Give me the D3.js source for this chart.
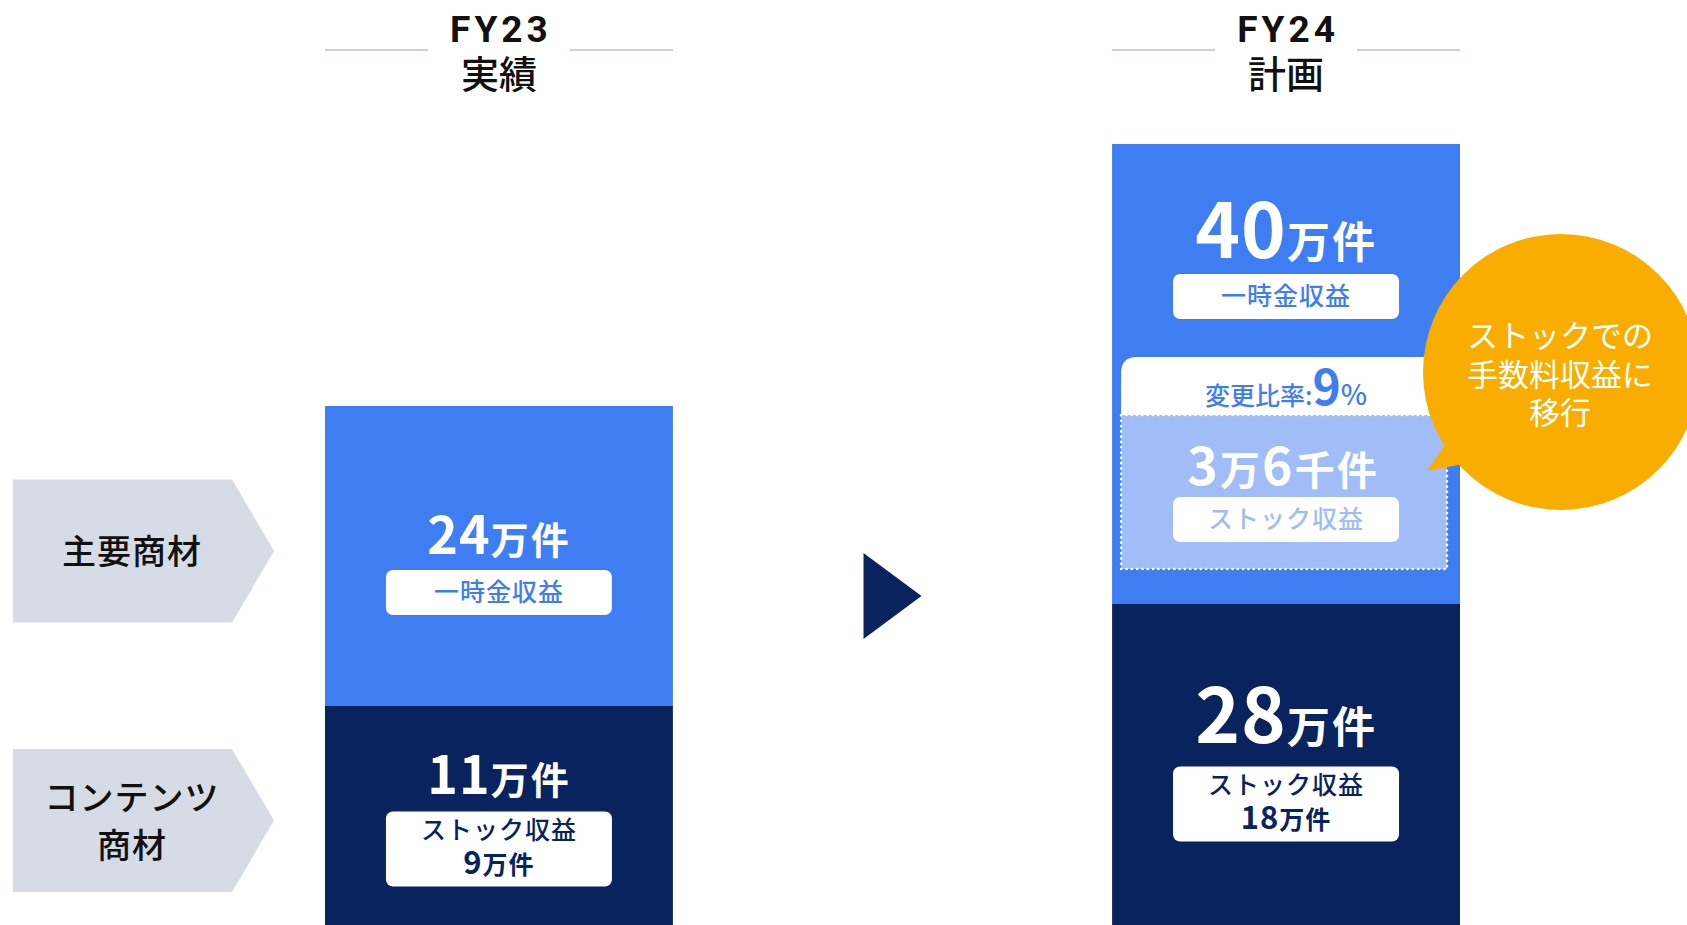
<!DOCTYPE html>
<html>
<head>
<meta charset="utf-8">
<title>FY23 / FY24 件数</title>
<script src="https://cdn.jsdelivr.net/npm/d3@7"></script>
<style>
  body { margin: 0; background: #fff; font-family: "Noto Sans CJK JP", "Noto Sans", sans-serif; }
  svg { display: block; }
</style>
</head>
<body>
<div id="chart"></div>
<script>
  // values (万件)
  const years = ["FY23", "FY24"];
  const yearNotes = ["実績", "計画"];
  const oneTime = [24, 40];          // 一時金収益
  const stock = [11, 28];            // コンテンツ商材
  const stockRevenue = [9, 18];      // うちストック収益
  const rowLabels = [["主要商材"], ["コンテンツ", "商材"]];
  const shiftRate = 9;               // 変更比率 %
  const shiftParts = [["3", "万"], ["6", "千件"]];
  const bubbleLines = ["ストックでの", "手数料収益に", "移行"];

  const width = 1687, height = 925;
  const BLUE = "#3f7df3", NAVY = "#08235e", LIGHT = "#a0bdf8", ORANGE = "#f9ad00", GREY = "#d5dce6";
  const FONT = "'Noto Sans CJK JP', sans-serif";

  const svg = d3.select("#chart").append("svg")
    .attr("width", width)
    .attr("height", height)
    .style("font-family", FONT);

  const x = d3.scaleBand().domain(years).range([325, 1460]).paddingInner(0.558);
  // infographic bars: dark part runs off the bottom, blue part sits on top of it
  const yBase = d3.scaleLinear().domain([0, 28]).range([772, 604]);
  const hTop = d3.scaleLinear().domain([0, 40]).range([60, 460]);

  const bars = years.map((yr, i) => {
    const x0 = x(yr), x1 = x0 + x.bandwidth();
    const mid = yBase(stock[i]);
    return { yr, i, x0, x1, cx: (x0 + x1) / 2, mid, top: mid - hTop(oneTime[i]) };
  });

  // headers
  const head = svg.append("g");
  bars.forEach(b => {
    head.append("text").attr("x", b.cx + 2).attr("y", 42).attr("text-anchor", "middle")
      .attr("font-family", "Roboto, sans-serif")
      .attr("font-size", 37).attr("font-weight", 700).attr("letter-spacing", 4)
      .attr("fill", "#111").text(b.yr);
    head.append("text").attr("x", b.cx).attr("y", 88).attr("text-anchor", "middle")
      .attr("font-size", 38).attr("font-weight", 500).attr("fill", "#111").text(yearNotes[b.i]);
    [[b.x0, b.x0 + 103], [b.x1 - 103, b.x1]].forEach(([a, c]) => {
      head.append("line").attr("x1", a).attr("x2", c).attr("y1", 50).attr("y2", 50)
        .attr("stroke", "#b4c3de").attr("stroke-width", 1.5);
    });
  });

  // bars
  svg.append("g").selectAll("rect").data(bars).enter().append("rect")
    .attr("x", d => d.x0).attr("width", x.bandwidth())
    .attr("y", d => d.top).attr("height", d => d.mid - d.top)
    .attr("fill", BLUE);
  svg.append("g").selectAll("rect").data(bars).enter().append("rect")
    .attr("x", d => d.x0).attr("width", x.bandwidth())
    .attr("y", d => d.mid).attr("height", d => height - d.mid)
    .attr("fill", NAVY);

  function numText(g, cx, y, parts, color) {
    const t = g.append("text").attr("x", cx).attr("y", y).attr("text-anchor", "middle")
      .attr("fill", color).attr("font-weight", 700);
    parts.forEach(([s, size, ls]) => {
      t.append("tspan").attr("font-size", size).attr("letter-spacing", ls || 0).text(s);
    });
    return t;
  }

  function labelBox(g, cx, y, h, fill) {
    g.append("rect").attr("x", cx - 113).attr("y", y).attr("width", 226).attr("height", h)
      .attr("rx", 7).attr("fill", fill);
  }

  const lab = svg.append("g");
  bars.forEach(b => {
    const big = b.i === 0 ? 52 : 76, unit = b.i === 0 ? 38 : 43;
    // 一時金収益
    const yTop = b.i === 0 ? (b.top + b.mid) / 2 - 2 : b.top + 114;
    numText(lab, b.cx, yTop, [[oneTime[b.i], big, 1], ["万件", unit, 2]], "#fff");
    labelBox(lab, b.cx, yTop + 16, 45, "#fff");
    lab.append("text").attr("x", b.cx).attr("y", yTop + 47).attr("text-anchor", "middle")
      .attr("font-size", 25).attr("font-weight", 500).attr("letter-spacing", 1)
      .attr("fill", BLUE).text("一時金収益");

    // コンテンツ / ストック
    const yBot = (b.mid + height) / 2 - 22;
    const boxTop = yBot + (b.i === 0 ? 18 : 24);
    numText(lab, b.cx, yBot, [[stock[b.i], big, 1], ["万件", unit, 2]], "#fff");
    labelBox(lab, b.cx, boxTop, 75, "#fff");
    lab.append("text").attr("x", b.cx).attr("y", boxTop + 27).attr("text-anchor", "middle")
      .attr("font-size", 25).attr("font-weight", 500).attr("letter-spacing", 1)
      .attr("fill", NAVY).text("ストック収益");
    numText(lab, b.cx, boxTop + 62, [[stockRevenue[b.i], 31, 1], ["万件", 25, 1]], NAVY);
  });

  // shift annotation inside FY24 blue part
  const b2 = bars[1];
  const ann = svg.append("g");
  const ax0 = b2.x0 + 9, ax1 = b2.x1 - 13;
  const lightTop = b2.mid - 189, lightBot = b2.mid - 35, headTop = lightTop - 58, r = 16;
  ann.append("path")
    .attr("d", `M${ax0},${lightTop} V${headTop + r} Q${ax0},${headTop} ${ax0 + r},${headTop}
      H${ax1 - r} Q${ax1},${headTop} ${ax1},${headTop + r} V${lightTop} Z`)
    .attr("fill", "#fff");
  ann.append("rect").attr("x", ax0).attr("y", lightTop)
    .attr("width", ax1 - ax0).attr("height", lightBot - lightTop)
    .attr("fill", LIGHT).attr("stroke", "#fff").attr("stroke-width", 2.6)
    .attr("stroke-dasharray", "0.1 5.2").attr("stroke-linecap", "round");

  const rateT = ann.append("text").attr("x", b2.cx).attr("y", headTop + 48)
    .attr("text-anchor", "middle").attr("fill", BLUE).attr("font-weight", 700);
  rateT.append("tspan").attr("font-size", 25).attr("font-weight", 500).text("変更比率:");
  rateT.append("tspan").attr("font-size", 48).text(shiftRate);
  rateT.append("tspan").attr("font-size", 28).attr("font-weight", 500).text("%");

  numText(ann, b2.cx - 3, lightTop + 70,
    shiftParts.flatMap(([n, u]) => [[n, 52, 2], [u, 40, 2]]), "#fff");
  labelBox(ann, b2.cx, lightTop + 82, 45, "#fff");
  ann.append("text").attr("x", b2.cx).attr("y", lightTop + 113).attr("text-anchor", "middle")
    .attr("font-size", 25).attr("font-weight", 500).attr("letter-spacing", 1)
    .attr("fill", LIGHT).text("ストック収益");

  // speech bubble
  const bub = svg.append("g");
  const bc = { x: 1561, y: 372, r: 138 };
  bub.append("path").attr("d", "M1427,471 L1447,442 L1463,464 Z").attr("fill", ORANGE);
  bub.append("circle").attr("cx", bc.x).attr("cy", bc.y).attr("r", bc.r).attr("fill", ORANGE);
  bub.selectAll("text").data(bubbleLines).enter().append("text")
    .attr("x", bc.x - 1).attr("y", (d, i) => bc.y - 25 + i * 38.5)
    .attr("text-anchor", "middle").attr("font-size", 31).attr("font-weight", 400)
    .attr("fill", "#fff").text(d => d);

  // arrow between years
  const ax = (bars[0].x1 + bars[1].x0) / 2;
  svg.append("path").attr("d", `M${ax - 29},553 L${ax + 29},596 L${ax - 29},639 Z`).attr("fill", NAVY);

  // row labels on the left, aligned to FY23 parts
  const b1 = bars[0];
  const rowY = [(b1.top + b1.mid) / 2 - 5, (b1.mid + height) / 2 + 5];
  const rows = svg.append("g");
  rowLabels.forEach((lines, i) => {
    const cy = rowY[i];
    rows.append("path")
      .attr("d", `M13,${cy - 71.5} H232 L274,${cy} L232,${cy + 71.5} H13 Z`)
      .attr("fill", GREY);
    lines.forEach((s, j) => {
      rows.append("text").attr("x", 132).attr("y", cy + 13 - (lines.length - 1) * 24 + j * 48)
        .attr("text-anchor", "middle").attr("font-size", 34).attr("font-weight", 500)
        .attr("letter-spacing", 1).attr("fill", "#111").text(s);
    });
  });
</script>
</body>
</html>
